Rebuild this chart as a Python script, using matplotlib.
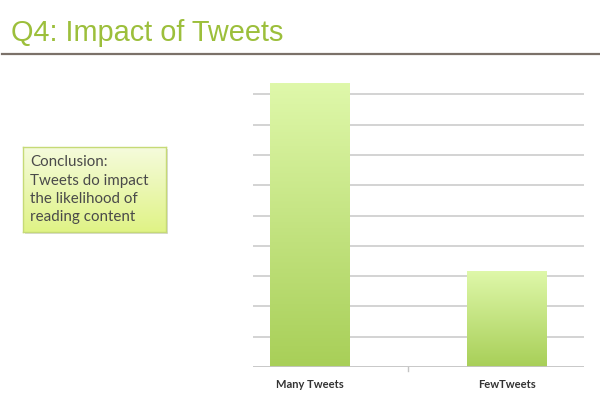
import numpy as np
import matplotlib
matplotlib.use('Agg')
import matplotlib.pyplot as plt
from matplotlib.colors import LinearSegmentedColormap
from matplotlib.patches import Rectangle

# ---------------------------------------------------------------
# Data
# ---------------------------------------------------------------
categories = ['Many Tweets', 'FewTweets']
values = [9.36, 3.17]
gridlines = [1, 2, 3, 4, 5, 6, 7, 8, 9]

title_text = 'Q4: Impact of Tweets'
box_lines = ['Conclusion:', 'Tweets do impact', 'the likelihood of', 'reading content']

TITLE_GREEN = '#9cbf3b'
bar_cmap = LinearSegmentedColormap.from_list('bar', ['#a8cf58', '#dff8aa'])
box_cmap = LinearSegmentedColormap.from_list('box', ['#e0f386', '#f5fbdc'])

W, H = 600, 404
fig = plt.figure(figsize=(6.0, 4.04), dpi=100)
fig.patch.set_facecolor('white')

# ---------------------------------------------------------------
# Title + rule
# ---------------------------------------------------------------
fig.text(11 / W, 1 - 41 / H, title_text, fontsize=20.8, color=TITLE_GREEN,
         family='Liberation Sans', ha='left', va='baseline')
fig.add_artist(plt.Line2D([2 / W, 1.0], [1 - 54 / H, 1 - 54 / H],
                          color='#7b7169', linewidth=1.6,
                          transform=fig.transFigure))

# ---------------------------------------------------------------
# Conclusion box (gradient, border, soft shadow)
# ---------------------------------------------------------------
bx0, by0, bx1, by1 = 23, 147, 166, 232
fig.add_artist(Rectangle((bx0 / W + 2 / W, 1 - by1 / H - 2 / H),
                         (bx1 - bx0) / W, (by1 - by0) / H,
                         transform=fig.transFigure, facecolor='#b0b0b0',
                         alpha=0.45, edgecolor='none', zorder=0))
bax = fig.add_axes([bx0 / W, 1 - by1 / H, (bx1 - bx0) / W, (by1 - by0) / H])
bax.imshow(np.linspace(0, 1, 100).reshape(-1, 1), cmap=box_cmap,
           aspect='auto', extent=[0, 1, 0, 1], origin='lower')
bax.set_xticks([])
bax.set_yticks([])
for s in bax.spines.values():
    s.set_color('#c6da76')
    s.set_linewidth(1.0)
for i, line in enumerate(box_lines):
    bax.text(7 / (bx1 - bx0), 1 - (19 + 18.5 * i) / (by1 - by0), line,
             transform=bax.transAxes, fontsize=10.9, color='#4a4a4a',
             family='Lato', ha='left', va='baseline')

# ---------------------------------------------------------------
# Bar chart
# ---------------------------------------------------------------
ax_left, ax_right, ax_bottom = 253, 584, 367
unit = 30.3
ymax = 9.6
ax = fig.add_axes([ax_left / W, 1 - ax_bottom / H,
                   (ax_right - ax_left) / W, ymax * unit / H])
x = np.arange(len(categories))
bars = ax.bar(x, values, width=0.405, color='none', edgecolor='none', zorder=3)
for b in bars:
    x0 = b.get_x()
    im = ax.imshow(np.linspace(0, 1, 200).reshape(-1, 1), cmap=bar_cmap,
                   aspect='auto', origin='lower',
                   extent=[x0, x0 + b.get_width(), 0, b.get_height()],
                   zorder=3)
    im.set_clip_path(b)

for g in gridlines:
    ax.axhline(g, color='#d0d0d0', linewidth=1.3, zorder=1)
ax.axhline(0, color='#c4c4c4', linewidth=1.3, zorder=4)
ax.plot([0.497, 0.497], [0, -0.12], color='#c4c4c4', linewidth=1.0,
        clip_on=False)

ax.set_xlim(-0.289, 1.391)
ax.set_ylim(0, ymax)
ax.set_xticks(x)
ax.set_xticklabels(categories, fontsize=8, fontweight='bold', color='#333333',
                   family='Lato')
ax.tick_params(axis='x', length=0, pad=9)
ax.set_yticks([])
for s in ax.spines.values():
    s.set_visible(False)
ax.set_facecolor('none')

fig.savefig('out.png', dpi=100, facecolor='white')
